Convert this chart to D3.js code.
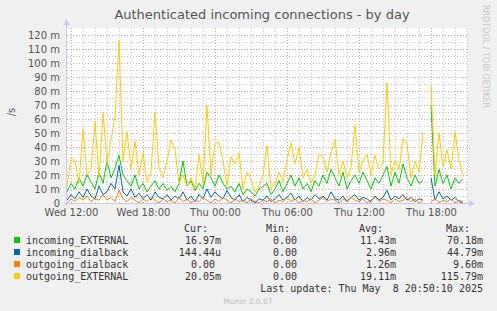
<!DOCTYPE html>
<html>
<head>
<meta charset="utf-8">
<script src="https://cdn.jsdelivr.net/npm/d3@7"></script>
<style>
  body { margin: 0; background: #f0f0f0; }
  svg { display: block; }
  text { font-family: "DejaVu Sans", sans-serif; }
  .mono { font-family: "DejaVu Sans Mono", monospace; font-size: 10px; fill: #333; }
</style>
</head>
<body>
<script>
// samples every 20 minutes starting Wed 11:40, values in milli-connections/s
var sampleStart = new Date(2025, 4, 7, 11, 40);
var sampleStepMin = 20;

var incomingExternal = [8, 14, 10, 18, 12, 20, 15, 10, 22, 14, 30, 18, 25, 34, 20, 16, 12, 20, 10, 14,
  8, 12, 16, 10, 14, 9, 12, 8, 14, 30, 12, 16, 9, 14, 10, 22, 18, 12, 20, 14,
  10, 12, 8, 14, 6, 10, 8, 5, 10, 12, 14, 6, 10, 16, 8, 14, 20, 12, 18, 10,
  14, 8, 16, 12, 20, 14, 24, 18, 12, 22, 10, 16, 20, 14, 22, 16, 10, 18, 14, 20,
  26, 12, 22, 14, 28, 18, 12, 20, 14, 16, NaN, 70, 12, 24, 14, 20, 10, 18, 14, 17];

var incomingDialback = [2, 6, 3, 8, 4, 10, 5, 3, 12, 6, 8, 14, 10, 27, 8, 5, 10, 4, 7, 3,
  6, 2, 8, 4, 3, 6, 2, 5, 3, 8, 2, 5, 1, 6, 3, 10, 4, 8, 5, 3,
  9, 4, 2, 6, 1, 4, 2, 0, 3, 2, 5, 1, 3, 6, 2, 4, 7, 2, 5, 1,
  4, 2, 6, 3, 5, 2, 8, 3, 2, 5, 1, 4, 6, 2, 4, 3, 1, 5, 2, 4,
  9, 2, 5, 3, 6, 2, 4, 1, 3, 2, NaN, 18, 2, 8, 3, 5, 2, 4, 1, 0];

var outgoingDialback = [0, 3, 1, 4, 2, 5, 1, 3, 2, 6, 2, 4, 1, 9, 3, 1, 4, 2, 0, 3,
  1, 4, 2, 0, 3, 1, 2, 0, 4, 1, 3, 0, 2, 1, 4, 2, 0, 3, 1, 4,
  2, 0, 3, 1, 2, 0, 3, 1, 0, 2, 1, 3, 0, 2, 1, 4, 1, 3, 0, 2,
  1, 3, 0, 2, 4, 1, 3, 2, 0, 3, 1, 4, 2, 1, 3, 0, 2, 4, 1, 3,
  2, 0, 3, 1, 2, 4, 1, 3, 0, 2, NaN, 1, 3, 0, 2, 1, 3, 0, 2, 1];

var outgoingExternal = [12, 32, 30, 14, 53, 20, 24, 58, 18, 65, 28, 45, 62, 116, 30, 51, 24, 44, 20, 36,
  15, 22, 65, 25, 18, 30, 45, 38, 14, 20, 12, 18, 10, 35, 14, 70, 20, 43, 43, 30,
  12, 33, 28, 36, 10, 22, 17, 8, 12, 20, 41, 10, 14, 22, 15, 31, 43, 28, 40, 18,
  24, 14, 20, 35, 33, 22, 36, 45, 20, 30, 18, 25, 56, 22, 30, 35, 20, 34, 24, 28,
  86, 20, 30, 24, 46, 42, 18, 30, 22, 50, NaN, 84, 20, 50, 26, 38, 24, 51, 30, 20];

var seriesNames = ["incoming_EXTERNAL", "incoming_dialback", "outgoing_dialback", "outgoing_EXTERNAL"];
var seriesColors = ["#00cc00", "#0066b3", "#ff8000", "#ffcc00"];
var seriesCur = ["16.97m", "144.44u", "0.00", "20.05m"];
var seriesMin = ["0.00", "0.00", "0.00", "0.00"];
var seriesAvg = ["11.43m", "2.96m", "1.26m", "19.11m"];
var seriesMax = ["70.18m", "44.79m", "9.60m", "115.79m"];

var yTicks = [0, 10, 20, 30, 40, 50, 60, 70, 80, 90, 100, 110, 120];

var W = 497, H = 311;
var plot = {left: 67, right: 467, top: 28, bottom: 203};

var svg = d3.select("body").append("svg")
    .attr("width", W)
    .attr("height", H);

svg.append("rect")
    .attr("width", W).attr("height", H)
    .attr("fill", "#f0f0f0");

var xScale = d3.scaleTime()
    .domain([new Date(2025, 4, 7, 11, 40), new Date(2025, 4, 8, 21, 0)])
    .range([plot.left, plot.right]);

var yScale = d3.scaleLinear()
    .domain([0, 125])
    .range([plot.bottom, plot.top]);

svg.append("rect")
    .attr("x", plot.left).attr("y", plot.top)
    .attr("width", plot.right - plot.left)
    .attr("height", plot.bottom - plot.top)
    .attr("fill", "#ffffff");

// grid
var grid = svg.append("g");
var minorY = d3.range(5, 125, 10);
grid.selectAll(".hminor").data(minorY).enter().append("line")
    .attr("x1", plot.left).attr("x2", plot.right)
    .attr("y1", d => yScale(d) + 0.5).attr("y2", d => yScale(d) + 0.5)
    .attr("stroke", "#c8c8c8").attr("stroke-dasharray", "1,2");

var hours = xScale.ticks(d3.timeHour.every(1));
grid.selectAll(".vminor").data(hours).enter().append("line")
    .attr("x1", d => Math.round(xScale(d)) + 0.5).attr("x2", d => Math.round(xScale(d)) + 0.5)
    .attr("y1", plot.top).attr("y2", plot.bottom)
    .attr("stroke", "#c8c8c8").attr("stroke-dasharray", "1,2");

grid.selectAll(".hmajor").data(yTicks.slice(1)).enter().append("line")
    .attr("x1", plot.left).attr("x2", plot.right)
    .attr("y1", d => yScale(d) + 0.5).attr("y2", d => yScale(d) + 0.5)
    .attr("stroke", "#dca0a0").attr("stroke-dasharray", "1,2");

var sixHours = xScale.ticks(d3.timeHour.every(6));
grid.selectAll(".vmajor").data(sixHours).enter().append("line")
    .attr("x1", d => Math.round(xScale(d)) + 0.5).attr("x2", d => Math.round(xScale(d)) + 0.5)
    .attr("y1", plot.top).attr("y2", plot.bottom + 2)
    .attr("stroke", "#dca0a0").attr("stroke-dasharray", "1,2");

// series lines
var sampleTimes = incomingExternal.map((d, i) => new Date(sampleStart.getTime() + i * sampleStepMin * 60000));
var allSeries = [incomingExternal, incomingDialback, outgoingDialback, outgoingExternal];

var line = d3.line()
    .defined(d => !isNaN(d))
    .x((d, i) => xScale(sampleTimes[i]))
    .y(d => yScale(d));

allSeries.forEach((vals, k) => {
    svg.append("path")
        .datum(vals)
        .attr("d", line)
        .attr("fill", "none")
        .attr("stroke", seriesColors[k])
        .attr("stroke-width", 1);
});

// axes lines + arrows
var axisColor = "#c8c8f0";
svg.append("line")
    .attr("x1", plot.left - 0.5).attr("x2", plot.left - 0.5)
    .attr("y1", plot.bottom + 3).attr("y2", plot.top - 6)
    .attr("stroke", axisColor);
svg.append("path")
    .attr("d", "M" + (plot.left - 3.5) + "," + (plot.top - 3) + "L" + (plot.left - 0.5) + "," + (plot.top - 9) + "L" + (plot.left + 2.5) + "," + (plot.top - 3) + "Z")
    .attr("fill", axisColor);
svg.append("line")
    .attr("x1", plot.left - 3).attr("x2", plot.right + 4)
    .attr("y1", plot.bottom + 0.5).attr("y2", plot.bottom + 0.5)
    .attr("stroke", axisColor);
svg.append("path")
    .attr("d", "M" + (plot.right + 2) + "," + (plot.bottom - 2.5) + "L" + (plot.right + 8) + "," + (plot.bottom + 0.5) + "L" + (plot.right + 2) + "," + (plot.bottom + 3.5) + "Z")
    .attr("fill", axisColor);

// y labels
var yAxis = d3.axisLeft(yScale)
    .tickValues(yTicks)
    .tickSize(0)
    .tickPadding(0)
    .tickFormat(d => d === 0 ? "0" : d + " m");
var yg = svg.append("g")
    .attr("transform", "translate(" + (plot.left - 7) + ",0)")
    .call(yAxis);
yg.select(".domain").remove();
yg.selectAll("text")
    .attr("font-family", "DejaVu Sans")
    .attr("font-size", "10px")
    .attr("fill", "#555");

// x labels
var xAxis = d3.axisBottom(xScale)
    .tickValues(sixHours)
    .tickSize(0)
    .tickPadding(0)
    .tickFormat(d3.timeFormat("%a %H:%M"));
var xg = svg.append("g")
    .attr("transform", "translate(0," + (plot.bottom + 6) + ")")
    .call(xAxis);
xg.select(".domain").remove();
xg.selectAll("text")
    .attr("font-family", "DejaVu Sans")
    .attr("font-size", "10px")
    .attr("fill", "#555");

// title
svg.append("text")
    .attr("x", 262)
    .attr("y", 19)
    .attr("text-anchor", "middle")
    .attr("font-size", "13px")
    .attr("fill", "#555")
    .text("Authenticated incoming connections - by day");

svg.append("text")
    .attr("transform", "translate(15,112) rotate(-90)")
    .attr("text-anchor", "middle")
    .attr("font-size", "10px")
    .attr("fill", "#555")
    .text("/s");

svg.append("text")
    .attr("transform", "translate(483,5) rotate(90)")
    .attr("font-size", "8px")
    .attr("fill", "#c8c8c8")
    .text("RRDTOOL / TOBI OETIKER");

// legend
var colRight = [221, 303, 396, 483];
var headers = ["Cur:", "Min:", "Avg:", "Max:"];
headers.forEach((h, j) => {
    svg.append("text")
        .attr("class", "mono")
        .attr("x", colRight[j] - 13)
        .attr("y", 232)
        .attr("text-anchor", "end")
        .text(h);
});

seriesNames.forEach((name, k) => {
    var y = 244 + k * 12;
    svg.append("rect")
        .attr("x", 14).attr("y", y - 7)
        .attr("width", 6).attr("height", 6)
        .attr("fill", seriesColors[k]);
    svg.append("text")
        .attr("class", "mono")
        .attr("x", 26).attr("y", y)
        .text(name);
    [seriesCur[k], seriesMin[k], seriesAvg[k], seriesMax[k]].forEach((v, j) => {
        var adj = v.match(/[mu]$/) ? 0 : -6;
        svg.append("text")
            .attr("class", "mono")
            .attr("x", colRight[j] + adj)
            .attr("y", y)
            .attr("text-anchor", "end")
            .text(v);
    });
});

svg.append("text")
    .attr("class", "mono")
    .attr("x", 483).attr("y", 292)
    .attr("text-anchor", "end")
    .attr("xml:space", "preserve")
    .style("white-space", "pre")
    .text("Last update: Thu May  8 20:50:10 2025");

svg.append("text")
    .attr("x", 248).attr("y", 304)
    .attr("text-anchor", "middle")
    .attr("font-size", "7.5px")
    .attr("fill", "#c0c0c0")
    .text("Munin 2.0.67");
</script>
</body>
</html>
